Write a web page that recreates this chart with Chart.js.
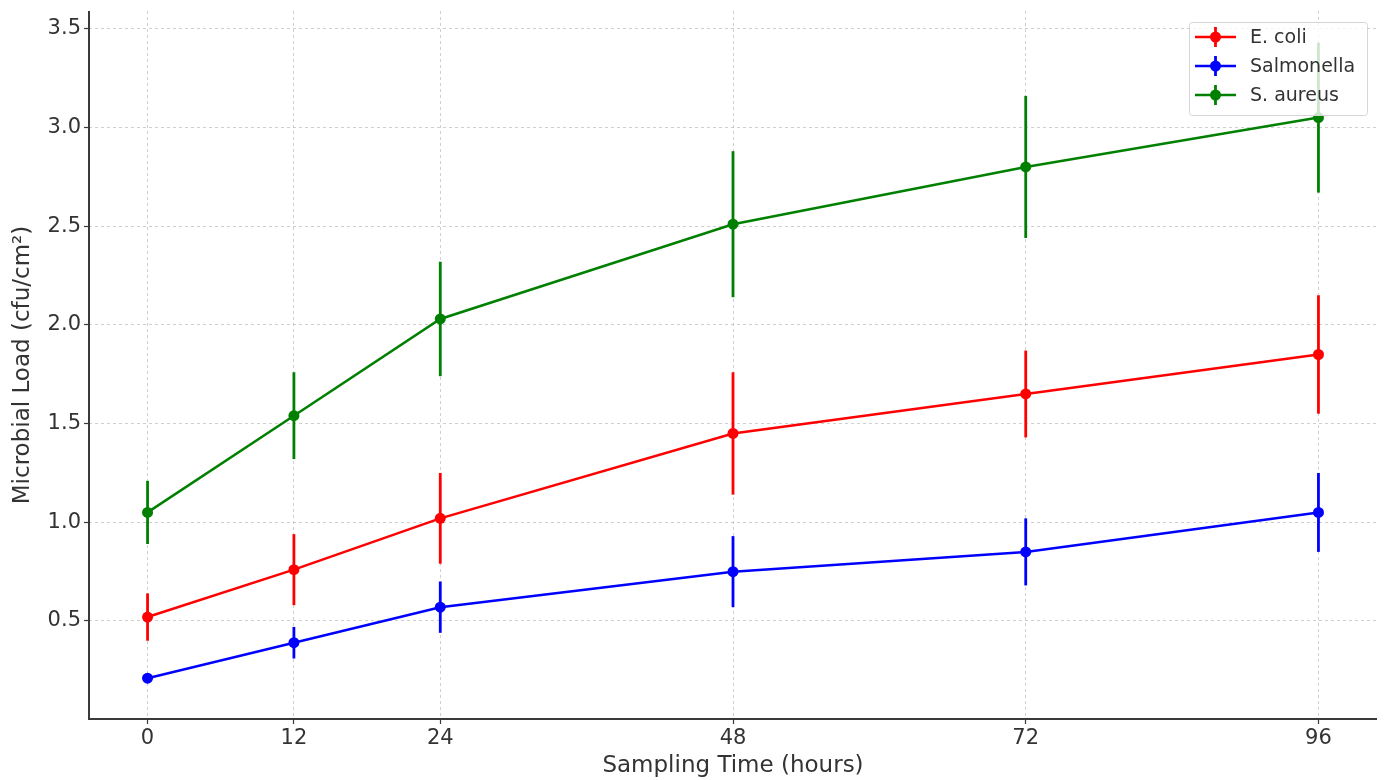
<!DOCTYPE html>
<html>
<head>
<meta charset="utf-8">
<script src="https://cdn.jsdelivr.net/npm/chart.js@4/dist/chart.umd.min.js"></script>
<style>
html,body{margin:0;padding:0;background:#fff;}
#wrap{width:1384px;height:780px;position:relative;}
</style>
</head>
<body>
<div id="wrap"><canvas id="c" width="1384" height="780"></canvas></div>
<script>
// ---- data ----
const times = [0, 12, 24, 48, 72, 96];
const xTicks = [0, 12, 24, 48, 72, 96];
const yTicks = [0.5, 1.0, 1.5, 2.0, 2.5, 3.0, 3.5];
const seriesNames = ['E. coli', 'Salmonella', 'S. aureus'];
const ecoli = [0.52, 0.76, 1.02, 1.45, 1.65, 1.85];
const ecoliErr = [0.12, 0.18, 0.23, 0.31, 0.22, 0.30];
const salmonella = [0.21, 0.39, 0.57, 0.75, 0.85, 1.05];
const salmonellaErr = [0.02, 0.08, 0.13, 0.18, 0.17, 0.20];
const saureus = [1.05, 1.54, 2.03, 2.51, 2.80, 3.05];
const saureusErr = [0.16, 0.22, 0.29, 0.37, 0.36, 0.38];
const colors = ['#ff0000', '#0000ff', '#008000'];

const FONT = 'DejaVu Sans';
const values = [ecoli, salmonella, saureus];
const errs = [ecoliErr, salmonellaErr, saureusErr];

const datasets = values.map((vals, i) => ({
  label: seriesNames[i],
  data: times.map((t, j) => ({x: t, y: vals[j]})),
  errors: errs[i],
  borderColor: colors[i],
  backgroundColor: colors[i],
  borderWidth: 2.5,
  pointRadius: 5.5,
  pointHoverRadius: 5.5,
  pointBorderWidth: 0,
  showLine: true,
  tension: 0
}));

const errorBars = {
  id: 'errorBars',
  afterDatasetDraw(chart, args) {
    const ds = chart.data.datasets[args.index];
    const ctx = chart.ctx;
    const xs = chart.scales.x, ys = chart.scales.y;
    ctx.save();
    ctx.strokeStyle = ds.borderColor;
    ctx.lineWidth = 2.8;
    ds.data.forEach((p, j) => {
      const e = ds.errors[j];
      const px = xs.getPixelForValue(p.x);
      ctx.beginPath();
      ctx.moveTo(px, ys.getPixelForValue(p.y - e));
      ctx.lineTo(px, ys.getPixelForValue(p.y + e));
      ctx.stroke();
    });
    ctx.restore();
  }
};

const spines = {
  id: 'spines',
  afterDraw(chart) {
    const {left, right, top, bottom} = chart.chartArea;
    const ctx = chart.ctx;
    ctx.save();
    ctx.strokeStyle = '#3a3a3a';
    ctx.lineWidth = 2;
    ctx.beginPath();
    ctx.moveTo(left, top);
    ctx.lineTo(left, bottom);
    ctx.lineTo(right, bottom);
    ctx.stroke();
    ctx.restore();
  }
};

const customLegend = {
  id: 'customLegend',
  afterDraw(chart) {
    const ctx = chart.ctx;
    const ca = chart.chartArea;
    const w = 178, h = 93;
    const bx = ca.right - 10 - w, by = ca.top + 11;
    ctx.save();
    ctx.fillStyle = 'rgba(255,255,255,0.8)';
    ctx.strokeStyle = '#d6d6d6';
    ctx.lineWidth = 1;
    ctx.beginPath();
    ctx.roundRect(bx + 0.5, by + 0.5, w, h, 3);
    ctx.fill();
    ctx.stroke();
    ctx.font = '19px "' + FONT + '"';
    ctx.textBaseline = 'middle';
    ctx.textAlign = 'left';
    chart.data.datasets.forEach((ds, i) => {
      const cy = by + 15 + i * 29;
      const x0 = bx + 6, x1 = bx + 47, xm = (x0 + x1) / 2;
      ctx.strokeStyle = ds.borderColor;
      ctx.fillStyle = ds.borderColor;
      ctx.lineWidth = 2.5;
      ctx.beginPath(); ctx.moveTo(x0, cy); ctx.lineTo(x1, cy); ctx.stroke();
      ctx.lineWidth = 2.8;
      ctx.beginPath(); ctx.moveTo(xm, cy - 10); ctx.lineTo(xm, cy + 10); ctx.stroke();
      ctx.beginPath(); ctx.arc(xm, cy, 5.5, 0, Math.PI * 2); ctx.fill();
      ctx.fillStyle = '#333';
      ctx.fillText(ds.label, bx + 61, cy + 1);
    });
    ctx.restore();
  }
};

new Chart(document.getElementById('c'), {
  type: 'scatter',
  data: {datasets},
  plugins: [errorBars, spines, customLegend],
  options: {
    responsive: false,
    animation: false,
    layout: {padding: {left: 0, right: 7, top: 11, bottom: 0}},
    plugins: {legend: {display: false}, tooltip: {enabled: false}},
    scales: {
      x: {
        type: 'linear',
        min: -4.8, max: 100.8,
        afterBuildTicks(s) { s.ticks = xTicks.map(v => ({value: v})); },
        afterFit(s) { s.height = 61; s.paddingLeft = 0; s.paddingRight = 0; },
        grid: {
          color: 'rgba(175,175,175,0.6)', lineWidth: 1,
          tickColor: '#3a3a3a', tickLength: 5, tickWidth: 1.2, tickBorderDash: []
        },
        border: {display: false, dash: [3, 3]},
        ticks: {
          font: {family: FONT, size: 21}, color: '#333', padding: 2,
          maxRotation: 0, autoSkip: false,
          callback: v => String(v)
        },
        title: {
          display: true, text: 'Sampling Time (hours)',
          font: {family: FONT, size: 23}, color: '#333',
          padding: {top: 0, bottom: 0}
        }
      },
      y: {
        min: 0.0035, max: 3.59,
        afterBuildTicks(s) { s.ticks = yTicks.map(v => ({value: v})); },
        afterFit(s) { s.width = 89; s.paddingTop = 0; s.paddingBottom = 0; },
        grid: {
          color: 'rgba(175,175,175,0.6)', lineWidth: 1,
          tickColor: '#3a3a3a', tickLength: 5, tickWidth: 1.2, tickBorderDash: []
        },
        border: {display: false, dash: [3, 3]},
        ticks: {
          font: {family: FONT, size: 21}, color: '#333', padding: 3,
          autoSkip: false,
          callback: v => v.toFixed(1)
        },
        title: {
          display: true, text: 'Microbial Load (cfu/cm²)',
          font: {family: FONT, size: 23}, color: '#333',
          padding: {top: 9, bottom: 0}
        }
      }
    }
  }
});
</script>
</body>
</html>
